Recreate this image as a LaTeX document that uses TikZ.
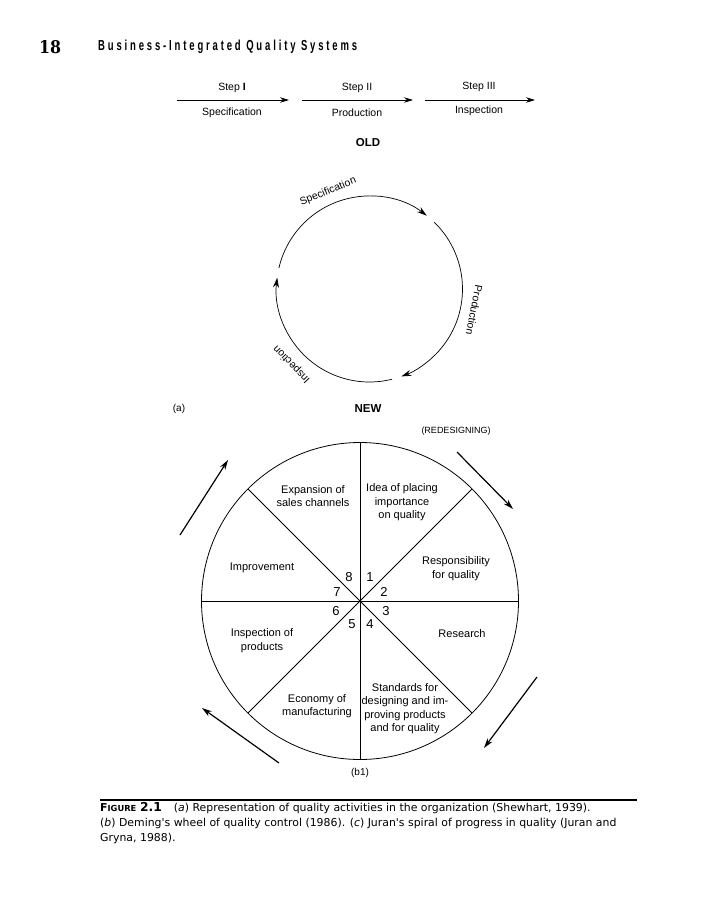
\documentclass[tikz,border=0pt]{standalone}
\usepackage{fontspec}
\setmainfont{Liberation Sans}
\newfontfamily\headfont[LetterSpace=30]{Liberation Sans}
\newfontfamily\numfont{DejaVu Serif Bold}
\newfontfamily\capfont{DejaVu Sans}
\usetikzlibrary{arrows.meta,calc}
\begin{document}
\begin{tikzpicture}[x=1pt,y=1pt,
  every node/.style={inner sep=0pt},
  steplbl/.style={font=\fontsize{10.5}{12}\selectfont},
  arclbl/.style={font=\fontsize{10.5}{12}\selectfont},
  wtxt/.style={font=\fontsize{11}{13.5}\selectfont, align=center},
  numlbl/.style={font=\fontsize{13}{15}\selectfont},
  caplbl/.style={font=\capfont\fontsize{10.9}{13}\selectfont, anchor=west},
  steparrow/.style={-{Stealth[length=9pt,width=5.5pt]}, line width=0.8pt},
  circarrow/.style={-{Stealth[length=10pt,width=6pt]}, line width=0.7pt},
  outerarrow/.style={-{Stealth[length=10pt,width=6pt]}, line width=1.2pt},
  wheelline/.style={line width=0.8pt}]
\useasboundingbox (0,0) rectangle (715,-900);

% header
\node (pagenum) at (50,-47) {\resizebox{22pt}{13pt}{\numfont 18}};
\node[anchor=west] (title) at (98,-47) {\resizebox{259pt}{10.5pt}{\headfont\bfseries Business-Integrated Quality Systems}};

% step row
\coordinate (s1a) at (177,-100); \coordinate (s1b) at (289,-100);
\coordinate (s2a) at (302,-100); \coordinate (s2b) at (413,-100);
\coordinate (s3a) at (425,-100); \coordinate (s3b) at (535,-100);
\draw[steparrow] (s1a) -- (s1b);
\draw[steparrow] (s2a) -- (s2b);
\draw[steparrow] (s3a) -- (s3b);
\node[steplbl] (st1) at (232,-88) {Step \textbf{I}};
\node[steplbl] (st2) at (357,-88) {Step II};
\node[steplbl] (st3) at (479,-87) {Step III};
\node[steplbl] (sp1) at (232,-113) {Specification};
\node[steplbl] (sp2) at (357,-113) {Production};
\node[steplbl] (sp3) at (479,-111) {Inspection};
\node[font=\fontsize{11.5}{14}\selectfont\bfseries] (old) at (368,-143) {OLD};

% old cycle (a)
\coordinate (cc) at (369.5,-289);
\draw[circarrow] ($(cc)+(167:93)$) arc[start angle=167, end angle=52, radius=93];
\draw[circarrow] ($(cc)+(46:93)$) arc[start angle=46, end angle=-70, radius=93];
\draw[circarrow] ($(cc)+(-76:93)$) arc[start angle=-76, end angle=-187, radius=93];
\node[arclbl, rotate=22] (cspec) at ($(cc)+(113:106)$) {Specification};
\node[arclbl, rotate=-101] (cprod) at ($(cc)+(-11.5:107)$) {Production};
\node[arclbl, rotate=134] (cinsp) at ($(cc)+(224:108)$) {Inspection};

\node[font=\fontsize{10}{12}\selectfont] (alabel) at (179,-409) {(a)};
\node[font=\fontsize{11.5}{14}\selectfont\bfseries] (new) at (368,-409) {NEW};
\node[font=\fontsize{9}{11}\selectfont] (redes) at (456,-431) {(REDESIGNING)};

% wheel (b1)
\coordinate (w) at (360,-601);
\draw[wheelline] (w) circle[radius=158.5];
\coordinate (w0) at ($(w)+(0:158.5)$);
\coordinate (w45) at ($(w)+(45:158.5)$);
\coordinate (w90) at ($(w)+(90:158.5)$);
\coordinate (w135) at ($(w)+(135:158.5)$);
\coordinate (w180) at ($(w)+(180:158.5)$);
\coordinate (w225) at ($(w)+(225:158.5)$);
\coordinate (w270) at ($(w)+(270:158.5)$);
\coordinate (w315) at ($(w)+(315:158.5)$);
\draw[wheelline] (w0) -- (w180);
\draw[wheelline] (w90) -- (w270);
\draw[wheelline] (w45) -- (w225);
\draw[wheelline] (w135) -- (w315);

\node[wtxt] (exp) at (313,-496) {Expansion of\\sales channels};
\node[wtxt] (idea) at (402,-502.5) {Idea of placing\\importance\\on quality};
\node[wtxt] (impr) at (262,-568) {Improvement};
\node[wtxt] (resp) at (456,-568.5) {Responsibility\\for quality};
\node[wtxt] (inspp) at (262,-640.5) {Inspection of\\products};
\node[wtxt] (res) at (462,-634) {Research};
\node[wtxt] (econ) at (317,-706) {Economy of\\manufacturing};
\node[wtxt] (stand) at (405,-708.5) {Standards for\\designing and im-\\proving products\\and for quality};

\node[numlbl] (n8) at (349,-577) {8};
\node[numlbl] (n1) at (370,-577) {1};
\node[numlbl] (n7) at (337,-592) {7};
\node[numlbl] (n2) at (384,-592) {2};
\node[numlbl] (n6) at (336,-611) {6};
\node[numlbl] (n3) at (386,-611) {3};
\node[numlbl] (n5) at (352,-624) {5};
\node[numlbl] (n4) at (370,-624) {4};

\node[font=\fontsize{10}{12}\selectfont] (b1) at (360,-773) {(b1)};

% outer arrows
\coordinate (ula) at (180,-535); \coordinate (ulb) at (228,-460);
\coordinate (ura) at (457,-452); \coordinate (urb) at (513,-509);
\coordinate (lra) at (537,-677); \coordinate (lrb) at (484,-748);
\coordinate (lla) at (279,-763); \coordinate (llb) at (202,-708);
\draw[outerarrow] (ula) -- (ulb);
\draw[outerarrow] (ura) -- (urb);
\draw[outerarrow] (lra) -- (lrb);
\draw[outerarrow] (lla) -- (llb);

% caption
\coordinate (rl) at (100,-800); \coordinate (rr) at (637,-800);
\draw[line width=1.2pt] (rl) -- (rr);
\node[caplbl] (cap1) at (100,-808) {{\bfseries F{\fontsize{8.3}{10}\selectfont IGURE} \fontsize{12.3}{13}\selectfont 2.1}\hspace{1.1em}(\textit{a}) Representation of quality activities in the organization (Shewhart, 1939).};
\node[caplbl] (cap2) at (100,-823) {(\textit{b}) Deming's wheel of quality control (1986). (\textit{c}) Juran's spiral of progress in quality (Juran and};
\node[caplbl] (cap3) at (100,-838) {Gryna, 1988).};
\end{tikzpicture}
\end{document}
